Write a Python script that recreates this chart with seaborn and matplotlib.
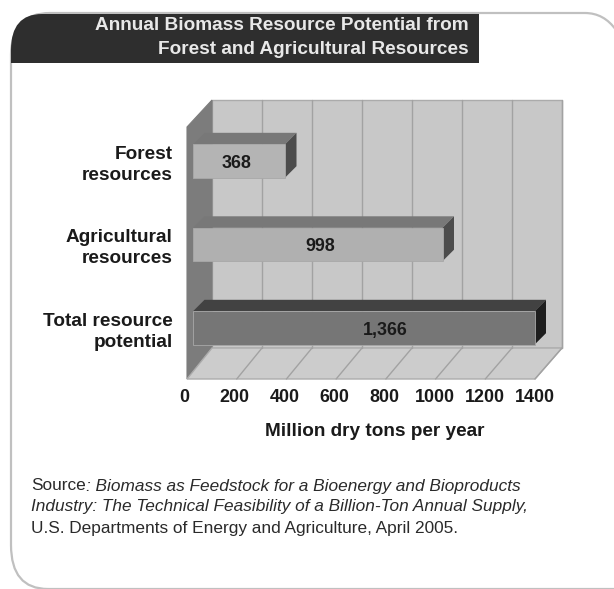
import matplotlib
matplotlib.use('Agg')
import matplotlib.pyplot as plt
import seaborn as sns
import pandas as pd
from matplotlib.patches import Polygon, PathPatch
from matplotlib.path import Path
from matplotlib.transforms import ScaledTranslation

categories = ['Forest\nresources', 'Agricultural\nresources', 'Total resource\npotential']
values = [368, 998, 1366]
value_labels = ['368', '998', '1,366']
label_shift = [-10, 10, 85]
ticks = [0, 200, 400, 600, 800, 1000, 1200, 1400]
face_colors = ['#b4b4b4', '#b0b0b0', '#767676']
top_colors = ['#787878', '#787878', '#424242']
side_colors = ['#4c4c4c', '#4c4c4c', '#1e1e1e']

W, H = 614, 589
sns.set_theme(style='white')
plt.rcParams['font.family'] = ['Liberation Sans', 'DejaVu Sans']

fig = plt.figure(figsize=(W / 100, H / 100), dpi=100, facecolor='white')

# page layer in pixel coordinates, for the frame and the fake 3D box
page = fig.add_axes([0, 0, 1, 1], zorder=1)
page.set_xlim(0, W)
page.set_ylim(H, 0)
page.axis('off')

# rounded frame, open past the right and bottom edges
frame = Path([(628, 589), (48, 589), (11, 589), (11, 545), (11, 55), (11, 13), (50, 13),
              (585, 13), (604, 13), (616, 30)],
             [Path.MOVETO, Path.LINETO, Path.CURVE3, Path.CURVE3, Path.LINETO, Path.CURVE3,
              Path.CURVE3, Path.LINETO, Path.CURVE3, Path.CURVE3])
page.add_patch(PathPatch(frame, fill=False, ec='#c0c0c0', lw=1.6))

band = Path([(11, 63), (11, 50), (11, 14), (42, 14), (479, 14), (479, 63), (11, 63)],
            [Path.MOVETO, Path.LINETO, Path.CURVE3, Path.CURVE3, Path.LINETO, Path.LINETO,
             Path.CLOSEPOLY])
page.add_patch(PathPatch(band, fc='#2e2e2e', ec='none'))
page.text(469, 26, 'Annual Biomass Resource Potential from', color='#e8e8e8', fontsize=13.7,
          fontweight='bold', ha='right', va='center')
page.text(469, 49, 'Forest and Agricultural Resources', color='#e8e8e8', fontsize=13.7,
          fontweight='bold', ha='right', va='center')

# box walls
back_l, back_r, back_t, back_b = 212, 562, 100, 348
front_l, front_r, front_t, front_b = 187, 535, 127, 379
page.add_patch(Polygon([(back_l, back_t), (back_r, back_t), (back_r, back_b), (back_l, back_b)],
                       fc='#c8c8c8', ec='#ababab', lw=1))
page.add_patch(Polygon([(front_l, front_t), (back_l, back_t), (back_l, back_b), (front_l, front_b)],
                       fc='#7c7c7c', ec='#7c7c7c', lw=0.8))
page.add_patch(Polygon([(front_l, front_b), (back_l, back_b), (back_r, back_b), (front_r, front_b)],
                       fc='#cccccc', ec='#ababab', lw=1))
for t in ticks[1:]:
    xb = back_l + t / ticks[-1] * (back_r - back_l)
    xf = front_l + t / ticks[-1] * (front_r - front_l)
    page.plot([xb, xb], [back_t, back_b], color='#a2a2a2', lw=1)
    page.plot([xb, xf], [back_b, front_b], color='#a2a2a2', lw=1)

src = page.text(31, 486, 'Source', color='#2a2a2a', fontsize=12.4, va='center')
src_end = page.transData.inverted().transform(src.get_window_extent(fig.canvas.get_renderer()))[1][0]
page.text(src_end, 486, ': Biomass as Feedstock for a Bioenergy and Bioproducts', color='#2a2a2a',
          fontsize=12.4, style='italic', va='center')
page.text(31, 507, 'Industry: The Technical Feasibility of a Billion-Ton Annual Supply,',
          color='#2a2a2a', fontsize=12.4, style='italic', va='center')
page.text(31, 528, 'U.S. Departments of Energy and Agriculture, April 2005.', color='#2a2a2a',
          fontsize=12.4, va='center')

# bar layer: 0..1400 runs over 350 px starting at x=193
ax = fig.add_axes([193 / W, 1 - 369.75 / H, 350 / W, 250.5 / H], zorder=2)
ax.patch.set_alpha(0)
df = pd.DataFrame({'category': categories, 'value': values})
sns.barplot(data=df, x='value', y='category', hue='category', palette=face_colors, width=0.4,
            legend=False, ax=ax, edgecolor='#a8a8a8', linewidth=0.6, saturation=1)
ax.set_xlim(0, 1400)
ax.set_ylim(2.5, -0.5)
ax.set_xticks(ticks)
ax.set_xlabel('')
ax.set_ylabel('')
sns.despine(ax=ax, left=True, bottom=True)
ax.tick_params(axis='x', length=0, pad=14)
ax.tick_params(axis='y', length=0, pad=14.5)
for lab in ax.get_xticklabels():
    lab.set_fontweight('bold')
    lab.set_fontsize(12.9)
    lab.set_color('#1a1a1a')
    # the numbers sit under the front edge of the floor, not under the bars
    lab.set_transform(lab.get_transform() + ScaledTranslation(-6 / 72, 0, fig.dpi_scale_trans))
for lab in ax.get_yticklabels():
    lab.set_fontweight('bold')
    lab.set_fontsize(13.7)
    lab.set_color('#1a1a1a')
    lab.set_multialignment('right')
    lab.set_linespacing(1.3)

# extrude each bar up and to the right
depth = 11.5
to_page = ax.transData + page.transData.inverted()
for i, bar in enumerate(ax.patches):
    x0, y0 = to_page.transform((bar.get_x(), bar.get_y()))
    x1, y1 = to_page.transform((bar.get_x() + bar.get_width(), bar.get_y() + bar.get_height()))
    page.add_patch(Polygon([(x0, y0), (x0 + depth, y0 - depth), (x1 + depth, y0 - depth), (x1, y0)],
                           fc=top_colors[i], ec='none', zorder=4))
    page.add_patch(Polygon([(x1, y0), (x1 + depth, y0 - depth), (x1 + depth, y1 - depth), (x1, y1)],
                           fc=side_colors[i], ec='none', zorder=4))
    ax.text(values[i] / 2 + label_shift[i], i, value_labels[i], ha='center', va='center_baseline',
            fontsize=12.9, fontweight='bold', color='#1a1a1a')

page.text(375, 431, 'Million dry tons per year', color='#1a1a1a', fontsize=13.7,
          fontweight='bold', ha='center', va='center')

fig.savefig('out.png', dpi=100)
